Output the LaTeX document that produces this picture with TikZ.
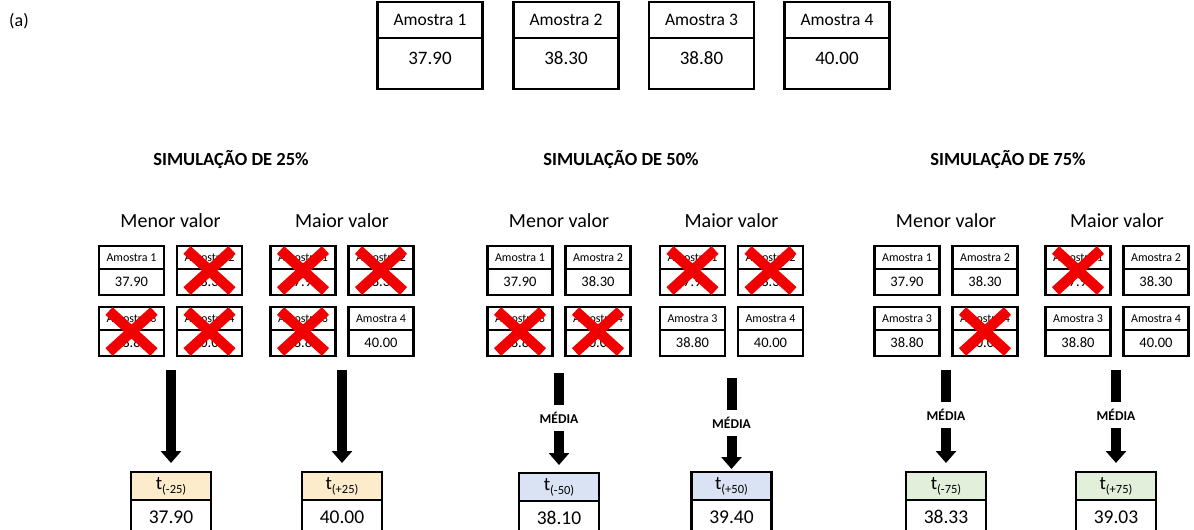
\documentclass[tikz,border=0pt]{standalone}
\usepackage{fontspec}
\setmainfont{Carlito}
\usetikzlibrary{arrows.meta,calc}

\definecolor{xred}{RGB}{240,0,0}
\definecolor{tanfill}{RGB}{252,236,204}
\definecolor{bluefill}{RGB}{218,227,243}
\definecolor{greenfill}{RGB}{226,239,218}

\newcommand\tsub[1]{t\raisebox{-4pt}{\fontsize{12.5}{12.5}\selectfont(#1)}}

\begin{document}
\begin{tikzpicture}[
  x=1pt, y=-1pt,
  every node/.style={inner sep=0pt, outer sep=0pt},
  % sample boxes: a header cell sitting on a value cell
  bighead/.style={draw, line width=2.8pt, minimum width=105pt, minimum height=36pt, font=\fontsize{17.5}{17.5}\selectfont},
  bigval/.style={draw, line width=2.8pt, minimum width=105pt, minimum height=51pt, text depth=10pt, font=\fontsize{19}{19}\selectfont},
  cellhead/.style={draw, line width=2.6pt, minimum width=65pt, minimum height=23pt, font=\fontsize{12}{12}\selectfont},
  cellval/.style={draw, line width=2.6pt, minimum width=65pt, minimum height=26pt, font=\fontsize{14.5}{14.5}\selectfont},
  reshead/.style={draw, line width=2.8pt, minimum width=80pt, minimum height=28pt, font=\fontsize{19}{19}\selectfont},
  resval/.style={draw, line width=2.8pt, minimum width=80pt, minimum height=34pt, font=\fontsize{19.5}{19.5}\selectfont},
  % discarded samples and the arrows to the results
  cross/.style={draw=xred, line width=10.5pt},
  title/.style={font=\bfseries\fontsize{18.5}{18.5}\selectfont},
  side/.style={font=\fontsize{20}{20}\selectfont},
  media/.style={minimum height=26pt, font=\bfseries\fontsize{13.5}{13.5}\selectfont},
  shaft/.style={draw, line width=10pt},
  bigarrow/.style={draw, line width=10pt, -{Triangle[width=20pt, length=12pt]}}]

  \useasboundingbox (0,0) rectangle (1194,530);

  \node[font=\fontsize{18}{18}\selectfont] (tag) at (19,21) {(a)};

  % the four samples
  \foreach \k/\v/\x in {1/37.90/430, 2/38.30/566, 3/38.80/701.5, 4/40.00/837} {
    \node[bighead] (top-h\k) at (\x,20) {Amostra \k};
    \node[bigval, anchor=north] (top-v\k) at (top-h\k.south) {\v};
  }

  % headings
  \node[title] (s25) at (231,160)  {SIMULAÇÃO DE 25\%};
  \node[title] (s50) at (621,160)  {SIMULAÇÃO DE 50\%};
  \node[title] (s75) at (1008,160) {SIMULAÇÃO DE 75\%};

  % sample grids, with the discarded ones crossed out
  \foreach \grp/\pc/\txt/\cut in {g1m/170.5/Menor valor/{2,3,4}, g1x/342/Maior valor/{1,2,3},
      g2m/559/Menor valor/{3,4}, g2x/731.5/Maior valor/{1,2},
      g3m/946/Menor valor/{4}, g3x/1117/Maior valor/{1}} {
    \node[side] (\grp-t) at (\pc,221) {\txt};
    \foreach \k/\v/\dx/\dy in {1/37.90/-39/0, 2/38.30/39/0, 3/38.80/-39/61, 4/40.00/39/61} {
      \node[cellhead] (\grp-h\k) at ({\pc+\dx},{257.5+\dy}) {Amostra \k};
      \node[cellval, anchor=north] (\grp-v\k) at (\grp-h\k.south) {\v};
    }
    \foreach \c in \cut {
      \draw[cross] ($(\grp-h\c.north west)+(10,4)$) -- ($(\grp-v\c.south east)+(-10,-4)$);
      \draw[cross] ($(\grp-v\c.south west)+(10,-4)$) -- ($(\grp-h\c.north east)+(-10,4)$);
    }
  }

  % results
  \node[reshead, fill=tanfill]   (r1) at (171,486)    {\tsub{-25}};
  \node[reshead, fill=tanfill]   (r2) at (342,486)    {\tsub{+25}};
  \node[reshead, fill=bluefill]  (r3) at (559,487)    {\tsub{-50}};
  \node[reshead, fill=bluefill]  (r4) at (731.5,486)  {\tsub{+50}};
  \node[reshead, fill=greenfill] (r5) at (946,486)    {\tsub{-75}};
  \node[reshead, fill=greenfill] (r6) at (1116,486)   {\tsub{+75}};
  \node[resval, anchor=north] (v1) at (r1.south) {37.90};
  \node[resval, anchor=north] (v2) at (r2.south) {40.00};
  \node[resval, anchor=north] (v3) at (r3.south) {38.10};
  \node[resval, anchor=north] (v4) at (r4.south) {39.40};
  \node[resval, anchor=north] (v5) at (r5.south) {38.33};
  \node[resval, anchor=north] (v6) at (r6.south) {39.03};

  % arrows
  \coordinate (a1) at (171,370);
  \coordinate (a2) at (342,370);
  \draw[bigarrow, shorten >=9pt] (a1) -- (r1.north);
  \draw[bigarrow, shorten >=9pt] (a2) -- (r2.north);

  \node[media] (m3) at (559,418)   {MÉDIA};
  \node[media] (m4) at (731.5,423) {MÉDIA};
  \node[media] (m5) at (946,415)   {MÉDIA};
  \node[media] (m6) at (1116,415)  {MÉDIA};
  \coordinate (a3) at (559,373);
  \coordinate (a4) at (731.5,378);
  \coordinate (a5) at (946,370);
  \coordinate (a6) at (1116,370);
  \foreach \i/\s in {3/8, 4/3, 5/9, 6/9} {
    \draw[shaft] (a\i) -- (m\i.north);
    \draw[bigarrow, shorten >=\s pt] (m\i.south) -- (r\i.north);
  }
\end{tikzpicture}
\end{document}
